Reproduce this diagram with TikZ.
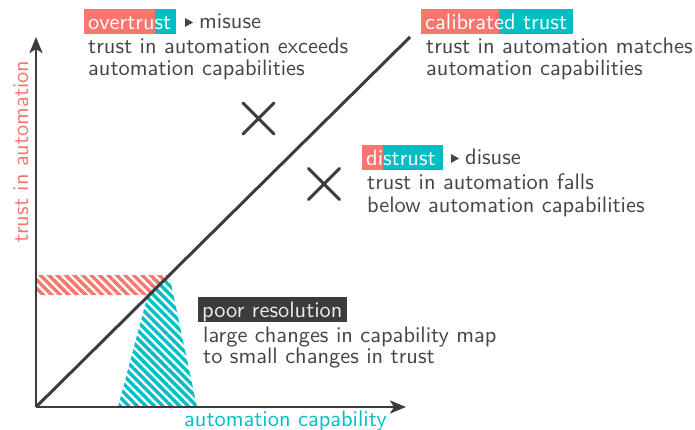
\documentclass[tikz,border=0pt]{standalone}
\usepackage{fontspec}
\usetikzlibrary{arrows.meta,patterns.meta,calc,shapes.misc}
\setsansfont{lmsans10-regular.otf}
\definecolor{salmon}{HTML}{F8766D}
\definecolor{tealc}{HTML}{00BFC4}
\definecolor{ink}{HTML}{3C3C3C}
\definecolor{txt}{HTML}{454545}
\newcommand{\labfont}{\fontsize{22.4}{22}\selectfont\sffamily}
\begin{document}
\begin{tikzpicture}[x=1pt,y=-1pt,
  lbl/.style={anchor=base west, inner sep=0pt, text=txt, font=\labfont},
  tagbox/.style={anchor=north west, inner xsep=4pt, inner ysep=2pt,
    text height=18pt, text depth=3pt, font=\labfont},
  tag/.style={tagbox, text=white, fill=tealc,
    path picture={\fill[salmon] (path picture bounding box.south west)
      rectangle ($(path picture bounding box.north west)!#1!(path picture bounding box.north east)$);}},
  axis/.style={draw=ink, line width=2.6pt, -{Stealth[length=16pt,width=13pt,inset=4pt]}},
  crossmark/.style={cross out, draw=ink, line width=3pt, line cap=round, minimum size=28pt, inner sep=0pt},
  pointer/.style={fill=txt},
  hatch/.style={pattern={Lines[angle=-45,distance=6pt,line width=3.4pt]}, pattern color=#1}
]
\useasboundingbox (0,0) rectangle (695,430);

% axes and diagonal anchor points
\coordinate (o) at (36,407);
\coordinate (xend) at (406,407);
\coordinate (yend) at (36,37);
\coordinate (dend) at (410,37);

% range of capability that maps to a narrow band of trust
\fill[hatch=tealc] (118,407) -- (197,407) -- (170,279) -- (152,279) -- cycle;
\fill[hatch=salmon] (37,275) -- (169.4,275) -- (149.2,295) -- (37,295) -- cycle;

% calibration line and axes
\draw[ink, line width=3pt] (o) -- (dend);
\draw[axis] (o) -- (xend);
\draw[axis] (o) -- (yend);

\node[lbl, text=tealc] (xlab) at (184,426) {automation capability};
\node[lbl, text=salmon, rotate=90] (ylab) at (28,243) {trust in automation};

% cases away from the line
\node[crossmark] (x1) at (258.5,118.5) {};
\node[crossmark] (x2) at (324,184) {};

% overtrust
\node[tag=0.77] (over) at (84,9) {\makebox[84pt][l]{overtrust}};
\fill[pointer] (185,18) -- (193,22.5) -- (185,27) -- cycle;
\node[lbl] (misuse) at (199,29) {misuse};
\node[lbl] (over1) at (88,54) {trust in automation exceeds};
\node[lbl] (over2) at (88,76) {automation capabilities};

% calibrated trust
\node[tag=0.51] (calib) at (421,9) {\makebox[144pt][l]{calibrated trust}};
\node[lbl] (calib1) at (426,54) {trust in automation matches};
\node[lbl] (calib2) at (426,76) {automation capabilities};

% distrust
\node[tag=0.26] (dis) at (362,145) {\makebox[73pt][l]{distrust}};
\fill[pointer] (451,154) -- (459,158.5) -- (451,163) -- cycle;
\node[lbl] (disuse) at (465,165) {disuse};
\node[lbl] (dis1) at (367,190) {trust in automation falls};
\node[lbl] (dis2) at (367,212) {below automation capabilities};

% poor resolution
\node[tagbox, fill=ink, text=white!92!black] (poor) at (198,297) {\makebox[141pt][l]{poor resolution}};
\node[lbl] (poor1) at (203,342) {large changes in capability map};
\node[lbl] (poor2) at (203,363) {to small changes in trust};
\end{tikzpicture}
\end{document}
